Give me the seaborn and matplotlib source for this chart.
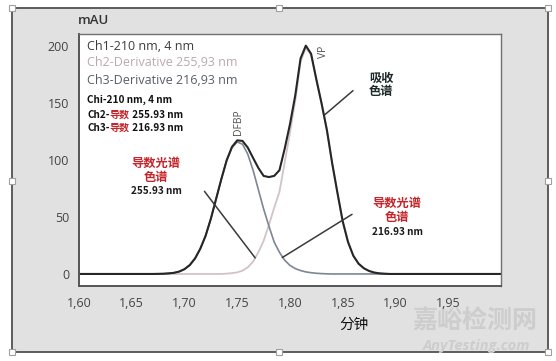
import numpy as np
import pandas as pd
import seaborn as sns
import matplotlib.pyplot as plt
from matplotlib.patches import Rectangle

# retention time grid (min) and the three traces
time = np.round(np.arange(1.60, 2.0001, 0.005), 3)

# Ch1 - absorbance 210 nm (black)
ch1 = [0] * 14 + [
    0.0, 0.1, 0.2, 0.5, 1.0, 2.1,
    4.2, 7.8, 13.6, 22.2, 33.5, 48.5, 66, 83.5, 99.8, 111.5,
    117.2, 116.7, 110.8, 101.8, 93, 86, 85, 86, 91, 110,
    131.5, 156.7, 189, 200.3, 193.1, 170.6, 149.3, 126.1, 97, 71,
    46, 28, 16, 9, 5, 2.6, 1.2, 0.5, 0.2,
] + [0] * 22

# Ch2 - derivative 255.93 nm (VP, light pink)
ch2 = [0] * 28 + [
    0.3, 0.7, 1.4, 2.9, 5.8, 10.8, 19, 29, 43, 58,
    72, 98, 124, 152, 186, 198.5, 192, 170, 149, 126,
    97, 71, 46, 28, 16, 9, 5, 2.6, 1.2, 0.5,
    0.2,
] + [0] * 22

# Ch3 - derivative 216.93 nm (DFBP, grey blue)
ch3 = [0] * 14 + [
    0.0, 0.1, 0.2, 0.5, 1.0, 2.1,
    4.2, 7.8, 13.6, 22.2, 33.5, 48.5, 66, 83.5, 99.5, 110.8,
    115.8, 113.8, 105, 91, 74, 57, 42, 28, 19, 12,
    7.5, 4.7, 3.0, 1.8, 1.1, 0.6, 0.3, 0.1,
] + [0] * 33

xticks = [1.60, 1.65, 1.70, 1.75, 1.80, 1.85, 1.90, 1.95]
yticks = [0, 50, 100, 150, 200]

sns.set_style("white")
plt.rcParams['font.family'] = ['Open Sans', 'Noto Sans CJK SC', 'DejaVu Sans']
CJK = ['Noto Sans CJK SC', 'DejaVu Sans']

W, H = 556, 361
def fx(px):
    return px / W
def fy(py):
    return 1 - py / H

fig = plt.figure(figsize=(W / 100, H / 100), dpi=100)
fig.patch.set_facecolor('white')

# grey panel behind the chart
fig.patches.append(Rectangle((fx(12), fy(352)), (548 - 12) / W, (352 - 8) / H,
                             transform=fig.transFigure, fc='#e1e1e1', ec='#505050',
                             lw=1.3, zorder=-10))
for hx, hy in [(12, 8), (279, 8), (548, 8), (12, 181), (548, 181),
               (12, 352), (279, 352), (548, 352)]:
    fig.patches.append(Rectangle((fx(hx - 3), fy(hy + 3)), 6 / W, 6 / H,
                                 transform=fig.transFigure, fc='white',
                                 ec='#a0a0a0', lw=0.8, zorder=-5))

ax = fig.add_axes([fx(79), fy(285.7), (501 - 79) / W, (285.7 - 34) / H])
ax.set_facecolor('white')

df = pd.DataFrame({'time': time, 'ch1': ch1, 'ch2': ch2, 'ch3': ch3})
sns.lineplot(data=df, x='time', y='ch2', ax=ax, color='#d2c3c7', lw=1.3)
sns.lineplot(data=df, x='time', y='ch3', ax=ax, color='#7c8695', lw=1.2)
sns.lineplot(data=df, x='time', y='ch1', ax=ax, color='#262626', lw=1.5)

ax.set_xlim(1.60, 2.00)
ax.set_ylim(-10.3, 210.5)
ax.set_xticks(xticks)
ax.set_xticklabels([f'{v:.2f}'.replace('.', ',') for v in xticks])
ax.set_yticks(yticks)
ax.set_xlabel('')
ax.set_ylabel('')
ax.tick_params(axis='both', colors='#555555', labelcolor='#444444', labelsize=9)
ax.tick_params(axis='y', length=6, width=1, pad=1)
ax.tick_params(axis='x', length=4, width=1, pad=4)
for s in ['left', 'bottom']:
    ax.spines[s].set_color('#555555')
    ax.spines[s].set_linewidth(1.4)
for s in ['top', 'right']:
    ax.spines[s].set_color('#707070')
    ax.spines[s].set_linewidth(1.0)

fig.text(fx(78), fy(21), 'mAU', fontsize=9.5, weight='semibold', color='#333333',
         ha='left', va='center')
fig.text(fx(354), fy(325), '分钟', fontsize=10.5, family=CJK, color='#111111',
         ha='center', va='center')

# legend block in the plot area
legend_rows = [('Ch1-210 nm, 4 nm', '#3c3c3c', 47),
               ('Ch2-Derivative 255,93 nm', '#bca9af', 63),
               ('Ch3-Derivative 216,93 nm', '#585d68', 80)]
for txt, col, py in legend_rows:
    fig.text(fx(87), fy(py), txt, fontsize=9, color=col, ha='left', va='center')

renderer = fig.canvas.get_renderer()

def mixed_line(px, py, parts, size=7.2):
    x = fx(px)
    for txt, col in parts:
        t = fig.text(x, fy(py), txt, fontsize=size, color=col, weight='bold',
                     family=CJK, ha='left', va='center')
        x = t.get_window_extent(renderer).x1 / fig.bbox.width

RED = '#c4262b'
mixed_line(87, 100, [('Chi-210 nm, 4 nm', '#111111')])
mixed_line(87, 115, [('Ch2-', '#111111'), ('导数', RED), (' 255.93 nm', '#111111')])
mixed_line(87, 128, [('Ch3-', '#111111'), ('导数', RED), (' 216.93 nm', '#111111')])

# callouts
def callout(px, rows):
    for txt, py, col, size in rows:
        fig.text(fx(px), fy(py), txt, fontsize=size, weight='bold', color=col,
                 family=CJK, ha='center', va='center')

callout(156, [('导数光谱', 163, RED, 8.8), ('色谱', 177, RED, 8.8),
              ('255.93 nm', 191, '#1a1a1a', 7.2)])
callout(397, [('导数光谱', 203, RED, 8.8), ('色谱', 217, RED, 8.8),
              ('216.93 nm', 232, '#1a1a1a', 7.2)])
callout(381, [('吸收', 78, '#1e2a2a', 8.8), ('色谱', 92, '#1e2a2a', 8.8)])

ax.plot([1.7189, 1.767], [72.5, 14.1], color='#3a3a3a', lw=1.1)
ax.plot([1.8597, 1.833], [160.8, 139.7], color='#3a3a3a', lw=1.1)
ax.plot([1.8588, 1.7927], [52.3, 14.4], color='#3a3a3a', lw=1.1)

# peak names
ax.text(1.7512, 133, 'DFBP', rotation=90, fontsize=7.5, color='#505050',
        ha='center', va='center')
ax.text(1.832, 195, 'VP', rotation=90, fontsize=7.5, color='#505050',
        ha='center', va='center')

# watermark
fig.text(fx(475), fy(321), '嘉峪检测网', fontsize=18, family=CJK, color='#cdcdcd',
         ha='center', va='center', weight='bold', zorder=-1)
fig.text(fx(477), fy(346), 'AnyTesting.com', fontsize=10.5, color='#cdcdcd',
         ha='center', va='center', weight='bold', style='italic', zorder=-1)

fig.savefig('out.png', dpi=100)
